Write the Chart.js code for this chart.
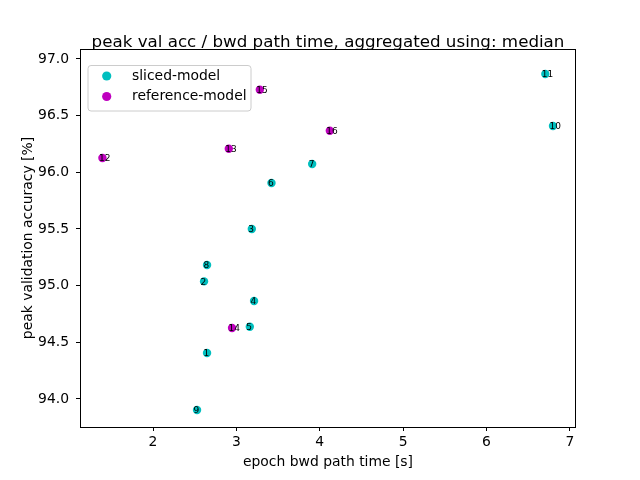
<!DOCTYPE html>
<html>
<head>
<meta charset="utf-8">
<style>
  body { margin: 0; background: #fff; }
  canvas { display: block; }
</style>
</head>
<body>
<canvas id="myChart" width="640" height="480"></canvas>

<script src="https://cdn.jsdelivr.net/npm/chart.js"></script>
<script>
  // values
  const slicedIds  = ['1', '2', '3', '4', '5', '6', '7', '8', '9', '10', '11'];
  const slicedTime = [2.648, 2.612, 3.185, 3.212, 3.161, 3.421, 3.909, 2.648, 2.528, 6.798, 6.706];
  const slicedAcc  = [94.405, 95.037, 95.50, 94.864, 94.637, 95.906, 96.073, 95.182, 93.902, 96.409, 96.868];

  const refIds  = ['12', '13', '14', '15', '16'];
  const refTime = [1.393, 2.909, 2.948, 3.281, 4.121];
  const refAcc  = [96.126, 96.208, 94.626, 96.729, 96.367];

  const xTicks = [2, 3, 4, 5, 6, 7];
  const yTicks = [94.0, 94.5, 95.0, 95.5, 96.0, 96.5, 97.0];

  const FONT = 'DejaVu Sans';
  const TITLE = 'peak val acc / bwd path time, aggregated using: median';

  function toPoints(xs, ys) {
    return xs.map((x, i) => ({ x: x, y: ys[i] }));
  }

  // frame, title, point labels and the legend (legend sits inside the axes)
  const extras = {
    id: 'extras',
    afterDatasetsDraw(chart) {
      const c = chart.ctx;
      const idLists = [slicedIds, refIds];
      c.save();
      c.fillStyle = '#000';
      c.font = '9px "' + FONT + '"';
      c.textAlign = 'left';
      c.textBaseline = 'middle';
      chart.data.datasets.forEach((ds, di) => {
        chart.getDatasetMeta(di).data.forEach((pt, i) => {
          c.fillText(idLists[di][i], pt.x - 3.5, pt.y + 1);
        });
      });
      c.restore();
    },
    afterDraw(chart) {
      const c = chart.ctx;
      const a = chart.chartArea;
      c.save();
      c.strokeStyle = '#000';
      c.lineWidth = 1;
      c.strokeRect(Math.round(a.left) + 0.5, Math.round(a.top) + 0.5,
                   Math.round(a.right - a.left) - 1, Math.round(a.bottom - a.top));

      c.fillStyle = '#000';
      c.font = '16.7px "' + FONT + '"';
      c.textAlign = 'center';
      c.textBaseline = 'middle';
      c.fillText(TITLE, (a.left + a.right) / 2, 43);

      // legend
      const bx = 88, by = 65.5, bw = 163, bh = 45.5;
      c.beginPath();
      c.roundRect(bx, by, bw, bh, 3);
      c.fillStyle = 'rgba(255,255,255,0.8)';
      c.fill();
      c.strokeStyle = '#cccccc';
      c.stroke();
      c.font = '13.9px "' + FONT + '"';
      c.textAlign = 'left';
      chart.data.datasets.forEach((ds, i) => {
        const yy = 76 + i * 20.5;
        c.beginPath();
        c.arc(106.7, yy, 4.6, 0, Math.PI * 2);
        c.fillStyle = ds.backgroundColor;
        c.fill();
        c.fillStyle = '#000';
        c.fillText(ds.label, 132, yy);
      });
      c.restore();
    }
  };

  const ctx = document.getElementById('myChart');
  const myChart = new Chart(ctx, {
    type: 'scatter',
    data: {
      datasets: [
        { label: 'sliced-model', data: toPoints(slicedTime, slicedAcc),
          backgroundColor: '#00bfbf', borderWidth: 0, pointRadius: 4.2 },
        { label: 'reference-model', data: toPoints(refTime, refAcc),
          backgroundColor: '#bf00bf', borderWidth: 0, pointRadius: 4.2 }
      ]
    },
    options: {
      responsive: false,
      devicePixelRatio: 1,
      animation: false,
      layout: { padding: { top: 49, right: 64, left: 0, bottom: 0 } },
      plugins: {
        legend: { display: false },
        title: { display: false },
        tooltip: { enabled: false }
      },
      scales: {
        x: {
          type: 'linear',
          min: 1.124,
          max: 7.074,
          afterFit(scale) { scale.height = 53; },
          afterBuildTicks(scale) { scale.ticks = xTicks.map(v => ({ value: v })); },
          grid: { drawOnChartArea: false, drawTicks: true, tickLength: 4, color: '#000' },
          border: { display: false },
          ticks: {
            color: '#000', padding: 3, maxRotation: 0,
            font: { family: FONT, size: 13.9 },
            callback: v => String(v)
          },
          title: {
            display: true, text: 'epoch bwd path time [s]', color: '#000',
            font: { family: FONT, size: 13.9 }, padding: { top: 0, bottom: 9.6 }
          }
        },
        y: {
          type: 'linear',
          min: 93.752,
          max: 97.088,
          afterFit(scale) { scale.width = 80; },
          afterBuildTicks(scale) { scale.ticks = yTicks.map(v => ({ value: v })); },
          grid: { drawOnChartArea: false, drawTicks: true, tickLength: 4, color: '#000' },
          border: { display: false },
          ticks: {
            color: '#000', padding: 7,
            font: { family: FONT, size: 13.9 },
            callback: v => Number(v).toFixed(1)
          },
          title: {
            display: true, text: 'peak validation accuracy [%]', color: '#000',
            font: { family: FONT, size: 13.9 }, padding: { top: 19.6, bottom: 0 }
          }
        }
      }
    },
    plugins: [extras]
  });
</script>
</body>
</html>
